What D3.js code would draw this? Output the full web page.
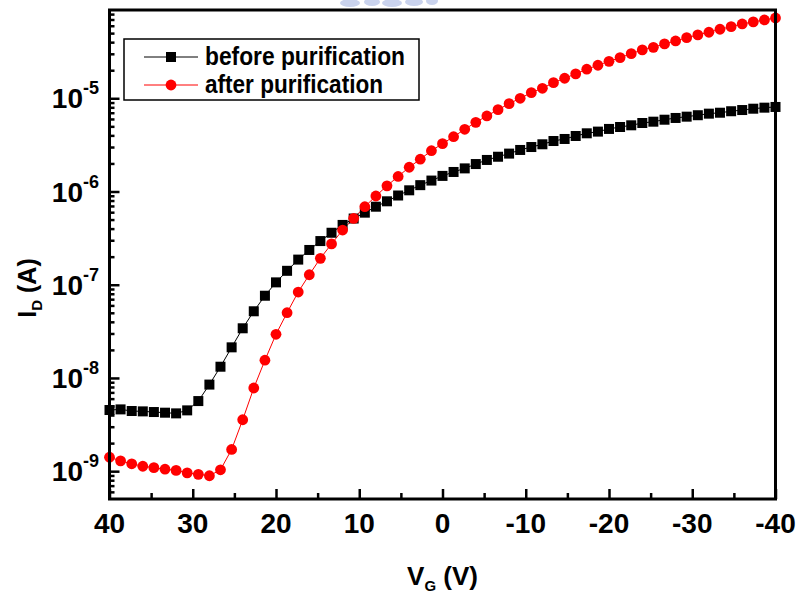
<!DOCTYPE html>
<html>
<head>
<meta charset="utf-8">
<script src="https://cdn.jsdelivr.net/npm/d3@7"></script>
<style>
  body { margin: 0; background: #fff; }
  text { font-family: "Liberation Sans", Arial, sans-serif; font-weight: bold; }
</style>
</head>
<body>
<div id="chart"></div>
<script>
// gate voltage (V), swept from +40 to -40
const vg = [40, 38.67, 37.33, 36, 34.67, 33.33, 32, 30.67, 29.33, 28,
  26.67, 25.33, 24, 22.67, 21.33, 20, 18.67, 17.33, 16, 14.67,
  13.33, 12, 10.67, 9.33, 8, 6.67, 5.33, 4, 2.67, 1.33,
  0, -1.33, -2.67, -4, -5.33, -6.67, -8, -9.33, -10.67, -12,
  -13.33, -14.67, -16, -17.33, -18.67, -20, -21.33, -22.67, -24, -25.33,
  -26.67, -28, -29.33, -30.67, -32, -33.33, -34.67, -36, -37.33, -38.67, -40];

// drain current (A)
const before = [4.53e-9, 4.60e-9, 4.42e-9, 4.38e-9, 4.31e-9, 4.24e-9, 4.17e-9, 4.49e-9, 5.65e-9, 8.49e-9,
  1.32e-8, 2.13e-8, 3.41e-8, 5.19e-8, 7.62e-8, 1.06e-7, 1.41e-7, 1.86e-7, 2.36e-7, 2.94e-7,
  3.61e-7, 4.38e-7, 5.13e-7, 5.93e-7, 6.87e-7, 7.85e-7, 9.06e-7, 1.03e-6, 1.17e-6, 1.31e-6,
  1.47e-6, 1.62e-6, 1.77e-6, 1.97e-6, 2.18e-6, 2.36e-6, 2.55e-6, 2.79e-6, 3.00e-6, 3.21e-6,
  3.48e-6, 3.66e-6, 3.94e-6, 4.21e-6, 4.39e-6, 4.69e-6, 4.92e-6, 5.13e-6, 5.43e-6, 5.61e-6,
  5.89e-6, 6.15e-6, 6.35e-6, 6.58e-6, 6.84e-6, 7.00e-6, 7.26e-6, 7.48e-6, 7.73e-6, 7.93e-6, 8.07e-6];

const after = [1.41e-9, 1.29e-9, 1.20e-9, 1.13e-9, 1.09e-9, 1.05e-9, 1.02e-9, 9.6e-10, 9.25e-10, 8.93e-10,
  1.035e-9, 1.71e-9, 3.56e-9, 7.80e-9, 1.55e-8, 2.94e-8, 5.01e-8, 8.35e-8, 1.28e-7, 1.92e-7,
  2.74e-7, 3.86e-7, 5.15e-7, 6.87e-7, 8.95e-7, 1.15e-6, 1.45e-6, 1.82e-6, 2.22e-6, 2.74e-6,
  3.26e-6, 3.87e-6, 4.65e-6, 5.52e-6, 6.46e-6, 7.55e-6, 8.75e-6, 1.00e-5, 1.15e-5, 1.28e-5,
  1.47e-5, 1.64e-5, 1.83e-5, 2.05e-5, 2.26e-5, 2.49e-5, 2.73e-5, 3.01e-5, 3.30e-5, 3.52e-5,
  3.83e-5, 4.12e-5, 4.47e-5, 4.78e-5, 5.11e-5, 5.50e-5, 5.86e-5, 6.27e-5, 6.59e-5, 6.92e-5, 7.27e-5];

const xTicks = [40, 30, 20, 10, 0, -10, -20, -30, -40];
const yExponents = [-9, -8, -7, -6, -5];
const seriesNames = ["before purification", "after purification"];

const margin = { top: 10, left: 109.5 },
      width = 666,
      height = 489;

const svg = d3.select("#chart").append("svg")
    .attr("width", 801)
    .attr("height", 597);

// faint watermark remnant at the top edge
svg.append("g").attr("opacity", 0.55)
  .selectAll("ellipse")
  .data([[350, 3, 10], [372, 2, 8], [392, 3, 10], [414, 2, 9], [432, 1, 6]])
  .enter().append("ellipse")
    .attr("cx", d => d[0]).attr("cy", d => d[1])
    .attr("rx", d => d[2]).attr("ry", 4)
    .attr("fill", "#9fb0e0");

const g = svg.append("g")
    .attr("transform", `translate(${margin.left},${margin.top})`);

const x = d3.scaleLinear().domain([40, -40]).range([0, width]);
const y = d3.scaleLog().domain([5.03e-10, 8.85e-5]).range([height, 0]);

// minor ticks
const yMinor = [];
for (let e = -10; e <= -5; e++) for (let m = 2; m <= 9; m++) {
  const v = m * Math.pow(10, e);
  if (v > y.domain()[0] && v < y.domain()[1]) yMinor.push(v);
}
const xMinor = [35, 25, 15, 5, -5, -15, -25, -35];

const tickStyle = sel => {
  sel.select(".domain").remove();
  sel.selectAll("line").attr("stroke", "#000").attr("stroke-width", 2.5);
};

g.append("g").call(d3.axisLeft(y).tickValues(yMinor).tickSize(-5).tickFormat("")).call(tickStyle);
g.append("g").call(d3.axisLeft(y).tickValues(yExponents.map(e => Math.pow(10, e))).tickSize(-10).tickFormat("")).call(tickStyle);
g.append("g").attr("transform", `translate(0,${height})`)
  .call(d3.axisBottom(x).tickValues(xMinor).tickSize(-6).tickFormat("")).call(tickStyle);
g.append("g").attr("transform", `translate(0,${height})`)
  .call(d3.axisBottom(x).tickValues(xTicks).tickSize(-10).tickFormat("")).call(tickStyle);

// x tick labels
g.append("g").selectAll("text")
  .data(xTicks)
  .enter().append("text")
    .attr("x", d => x(d))
    .attr("y", height + 34)
    .attr("text-anchor", "middle")
    .attr("font-size", 28)
    .text(d => d === 0 ? "0" : (d < 0 ? "-" + Math.abs(d) : String(d)));

// y tick labels 10^n
const yl = g.append("g").selectAll("text")
  .data(yExponents)
  .enter().append("text")
    .attr("x", -10.5)
    .attr("y", d => y(Math.pow(10, d)) + 10)
    .attr("text-anchor", "end")
    .attr("font-size", 28);
yl.append("tspan").text("10");
yl.append("tspan").attr("dy", -14).attr("font-size", 18).text(d => "-" + Math.abs(d));

// series
const pts = arr => arr.map((v, i) => [vg[i], v]);
const line = d3.line().x(d => x(d[0])).y(d => y(d[1]));

g.append("path").datum(pts(before))
  .attr("fill", "none").attr("stroke", "#000").attr("stroke-width", 1).attr("d", line);
g.append("path").datum(pts(after))
  .attr("fill", "none").attr("stroke", "#ff0000").attr("stroke-width", 1).attr("d", line);

const sq = 10;
g.append("g").selectAll("rect")
  .data(pts(before))
  .enter().append("rect")
    .attr("x", d => x(d[0]) - sq / 2)
    .attr("y", d => y(d[1]) - sq / 2)
    .attr("width", sq).attr("height", sq)
    .attr("fill", "#000");

g.append("g").selectAll("circle")
  .data(pts(after))
  .enter().append("circle")
    .attr("cx", d => x(d[0]))
    .attr("cy", d => y(d[1]))
    .attr("r", 5.4)
    .attr("fill", "#ff0000");

// frame
g.append("rect")
  .attr("width", width).attr("height", height)
  .attr("fill", "none").attr("stroke", "#000").attr("stroke-width", 3);

// legend
const legend = svg.append("g").attr("transform", "translate(124,39)");
legend.append("rect")
  .attr("width", 295).attr("height", 61)
  .attr("fill", "#fff").attr("stroke", "#000").attr("stroke-width", 1.5);

const colors = ["#000", "#ff0000"];
const items = legend.selectAll("g.item")
  .data(seriesNames)
  .enter().append("g")
    .attr("class", "item")
    .attr("transform", (d, i) => `translate(0,${18 + i * 28})`);

items.append("line")
  .attr("x1", 20).attr("x2", 74)
  .attr("stroke", (d, i) => colors[i]).attr("stroke-width", 1);
items.filter((d, i) => i === 0).append("rect")
  .attr("x", 47 - 5).attr("y", -5).attr("width", 10).attr("height", 10).attr("fill", "#000");
items.filter((d, i) => i === 1).append("circle")
  .attr("cx", 47).attr("r", 5.4).attr("fill", "#ff0000");
items.append("text")
  .attr("x", 81)
  .attr("y", 8)
  .attr("font-size", 25)
  .attr("textLength", (d, i) => i === 0 ? 200 : 178)
  .attr("lengthAdjust", "spacingAndGlyphs")
  .text(d => d);

// axis titles
const xt = svg.append("text")
  .attr("x", margin.left + width / 2)
  .attr("y", 585)
  .attr("text-anchor", "middle")
  .attr("font-size", 26);
xt.append("tspan").text("V");
xt.append("tspan").attr("dy", 6).attr("font-size", 15).text("G");
xt.append("tspan").attr("dy", -6).text(" (V)");

const yt = svg.append("text")
  .attr("transform", "translate(36,288) rotate(-90)")
  .attr("text-anchor", "middle")
  .attr("font-size", 25);
yt.append("tspan").text("I");
yt.append("tspan").attr("dy", 6).attr("font-size", 15).text("D");
yt.append("tspan").attr("dy", -6).text(" (A)");
</script>
</body>
</html>
